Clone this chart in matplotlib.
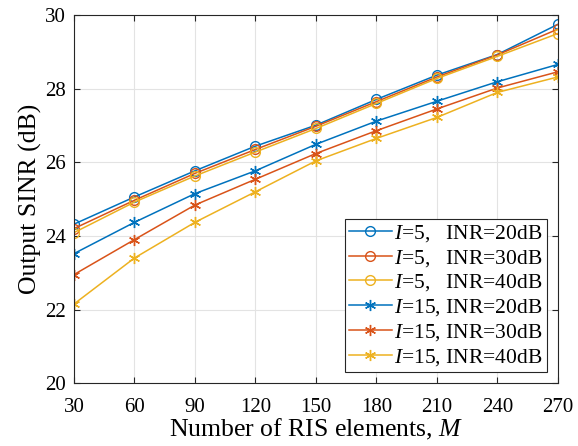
import numpy as np
import matplotlib
matplotlib.use('Agg')
import matplotlib.pyplot as plt

plt.rcParams['font.family'] = ['Liberation Serif', 'DejaVu Serif']
plt.rcParams['mathtext.fontset'] = 'custom'
plt.rcParams['mathtext.rm'] = 'Liberation Serif'
plt.rcParams['mathtext.it'] = 'Liberation Serif:italic'

# data
M = [30, 60, 90, 120, 150, 180, 210, 240, 270]
i5_inr20 = [24.32, 25.06, 25.77, 26.44, 27.01, 27.71, 28.37, 28.93, 29.75]
i5_inr30 = [24.20, 24.97, 25.70, 26.35, 26.98, 27.65, 28.32, 28.92, 29.62]
i5_inr40 = [24.09, 24.92, 25.63, 26.28, 26.92, 27.60, 28.28, 28.88, 29.50]
i15_inr20 = [23.52, 24.37, 25.15, 25.77, 26.49, 27.12, 27.66, 28.19, 28.66]
i15_inr30 = [22.95, 23.90, 24.84, 25.54, 26.24, 26.86, 27.45, 28.02, 28.46]
i15_inr40 = [22.15, 23.40, 24.37, 25.20, 26.04, 26.65, 27.22, 27.90, 28.32]

labels = ['$I$=5,   INR=20dB', '$I$=5,   INR=30dB', '$I$=5,   INR=40dB',
          '$I$=15, INR=20dB', '$I$=15, INR=30dB', '$I$=15, INR=40dB']
colors = ['#0072BD', '#D95319', '#EDB120']

fig = plt.figure(figsize=(5.78, 4.46), dpi=100)
ax = fig.add_axes([0.128, 0.141, 0.837, 0.825])

series = [i5_inr20, i5_inr30, i5_inr40, i15_inr20, i15_inr30, i15_inr40]
for k, y in enumerate(series):
    c = colors[k % 3]
    if k < 3:
        ax.plot(M, y, '-', color=c, lw=1.1, marker='o', ms=7,
                mfc='none', mec=c, mew=1.0, label=labels[k])
    else:
        ax.plot(M, y, '-', color=c, lw=1.1, marker=(6, 2, 0), ms=8,
                mec=c, mew=1.0, label=labels[k])

ax.set_xlim(30, 270)
ax.set_ylim(20, 30)
ax.set_xticks(M)
ax.set_yticks([20, 22, 24, 26, 28, 30])
ax.grid(True, color='#e3e3e3', lw=0.8)
ax.set_axisbelow(True)
ax.tick_params(direction='in', top=True, right=True, labelsize=15, length=4,
               color='#262626')
ax.tick_params(axis='x', pad=11)
ax.tick_params(axis='y', pad=6)
for s in ax.spines.values():
    s.set_color('#262626')
    s.set_linewidth(0.8)

ax.set_xlabel('Number of RIS elements, $M$', fontsize=18.5, labelpad=0)
ax.set_ylabel('Output SINR (dB)', fontsize=18.5, labelpad=2)

leg = ax.legend(loc='lower right', bbox_to_anchor=(0.977, 0.03), fontsize=15.5,
                fancybox=False, edgecolor='#262626', framealpha=1,
                handlelength=2.0, handletextpad=0.1, labelspacing=0.18,
                borderpad=0.2, borderaxespad=0)
leg.get_frame().set_linewidth(0.8)

fig.savefig('out.png', dpi=100)
plt.close(fig)
